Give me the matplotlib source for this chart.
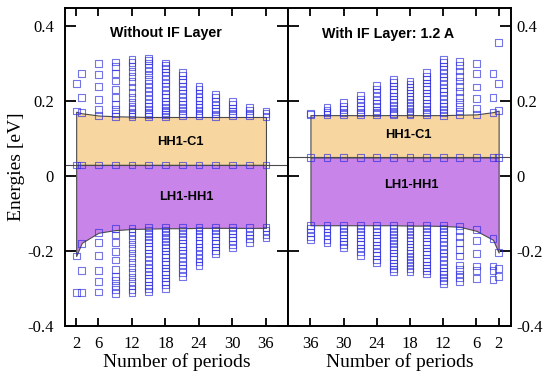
import matplotlib
matplotlib.use("Agg")
import matplotlib.pyplot as plt

# ---------------- data ----------------
periods = [2, 3, 6, 9, 12, 15, 18, 21, 24, 27, 30, 33, 36]
xticks = [2, 6, 12, 18, 24, 30, 36]
yticks = [-0.4, -0.2, 0, 0.2, 0.4]
ytick_labels = ["-0.4", "-0.2", "0", "0.2", "0.4"]

# Without IF layer
hh1_left = 0.030
c1_left = [0.172, 0.168, 0.162, 0.160, 0.159, 0.158, 0.158, 0.158, 0.158, 0.158, 0.158, 0.158, 0.158]
lh1_left = [-0.213, -0.178, -0.151, -0.144, -0.141, -0.140, -0.139, -0.139, -0.138, -0.138, -0.138, -0.138, -0.138]
cond_left = [
    [0.247, 0.174],
    [0.274, 0.210, 0.169],
    [0.300, 0.272, 0.239, 0.205, 0.178, 0.163],
    [0.305, 0.292, 0.274, 0.254, 0.231, 0.209, 0.191, 0.178, 0.168, 0.160],
    [0.311, 0.303, 0.292, 0.280, 0.266, 0.252, 0.238, 0.224, 0.210, 0.198, 0.187, 0.178, 0.170, 0.164, 0.159],
    [0.314, 0.308, 0.300, 0.291, 0.281, 0.270, 0.259, 0.248, 0.237, 0.226, 0.215, 0.205, 0.195, 0.186, 0.178, 0.171, 0.165, 0.160],
    [0.302, 0.295, 0.287, 0.278, 0.269, 0.259, 0.249, 0.239, 0.229, 0.219, 0.209, 0.200, 0.191, 0.183, 0.176, 0.169, 0.164, 0.159],
    [0.276, 0.268, 0.259, 0.250, 0.240, 0.230, 0.220, 0.210, 0.200, 0.191, 0.183, 0.175, 0.168, 0.162],
    [0.240, 0.231, 0.221, 0.211, 0.201, 0.192, 0.183, 0.175, 0.168, 0.162],
    [0.219, 0.209, 0.199, 0.190, 0.181, 0.173, 0.166, 0.160],
    [0.200, 0.191, 0.182, 0.174, 0.167, 0.161],
    [0.183, 0.175, 0.168, 0.162],
    [0.174, 0.167, 0.160],
]
val_left = [
    [-0.213, -0.310],
    [-0.180, -0.252, -0.310],
    [-0.151, -0.178, -0.211, -0.252, -0.282, -0.309],
    [-0.139, -0.157, -0.178, -0.202, -0.224, -0.249, -0.268, -0.279, -0.291, -0.302, -0.313],
    [-0.139, -0.148, -0.158, -0.169, -0.181, -0.193, -0.205, -0.218, -0.231, -0.244, -0.257, -0.269, -0.281, -0.292, -0.302, -0.311],
    [-0.137, -0.144, -0.152, -0.160, -0.169, -0.178, -0.187, -0.196, -0.205, -0.215, -0.225, -0.235, -0.245, -0.255, -0.264, -0.273, -0.282, -0.291, -0.299, -0.307],
    [-0.137, -0.144, -0.151, -0.159, -0.167, -0.175, -0.183, -0.191, -0.200, -0.209, -0.218, -0.227, -0.236, -0.245, -0.254, -0.263, -0.272, -0.281, -0.290, -0.299],
    [-0.137, -0.145, -0.153, -0.161, -0.170, -0.179, -0.188, -0.197, -0.207, -0.217, -0.227, -0.237, -0.247, -0.257, -0.267],
    [-0.137, -0.145, -0.153, -0.162, -0.171, -0.180, -0.189, -0.199, -0.209, -0.219, -0.229, -0.239],
    [-0.137, -0.145, -0.153, -0.162, -0.171, -0.180, -0.189, -0.198, -0.207],
    [-0.137, -0.145, -0.154, -0.163, -0.172, -0.182, -0.192],
    [-0.137, -0.147, -0.157, -0.167, -0.177],
    [-0.136, -0.145, -0.155, -0.165],
]

# With IF layer 1.2 A
hh1_right = 0.050
c1_right = [0.175, 0.171, 0.165, 0.164, 0.163, 0.163, 0.163, 0.163, 0.163, 0.163, 0.163, 0.163, 0.163]
lh1_right = [-0.204, -0.170, -0.146, -0.135, -0.133, -0.132, -0.132, -0.131, -0.131, -0.131, -0.131, -0.131, -0.131]
cond_right = [
    [0.356, 0.247, 0.176],
    [0.274, 0.211, 0.171],
    [0.300, 0.274, 0.238, 0.207, 0.180, 0.165],
    [0.307, 0.296, 0.281, 0.267, 0.254, 0.240, 0.225, 0.210, 0.196, 0.185, 0.174, 0.165],
    [0.311, 0.303, 0.294, 0.285, 0.275, 0.265, 0.255, 0.245, 0.235, 0.225, 0.215, 0.205, 0.195, 0.186, 0.177, 0.169, 0.163],
    [0.276, 0.267, 0.258, 0.249, 0.240, 0.231, 0.222, 0.213, 0.204, 0.195, 0.186, 0.178, 0.170, 0.164],
    [0.254, 0.246, 0.238, 0.230, 0.222, 0.213, 0.205, 0.197, 0.189, 0.181, 0.174, 0.168, 0.164],
    [0.258, 0.250, 0.241, 0.232, 0.223, 0.214, 0.205, 0.196, 0.188, 0.180, 0.173, 0.167, 0.164],
    [0.243, 0.233, 0.223, 0.213, 0.203, 0.194, 0.185, 0.176, 0.169, 0.164],
    [0.216, 0.206, 0.196, 0.187, 0.178, 0.170, 0.164],
    [0.196, 0.186, 0.177, 0.170, 0.164],
    [0.183, 0.176, 0.170, 0.165],
    [0.168, 0.164],
]
val_right = [
    [-0.204, -0.246, -0.268],
    [-0.166, -0.240, -0.251, -0.276],
    [-0.142, -0.171, -0.206, -0.240, -0.251, -0.273],
    [-0.133, -0.144, -0.160, -0.178, -0.195, -0.213, -0.237, -0.249, -0.261, -0.270, -0.282],
    [-0.131, -0.139, -0.147, -0.156, -0.165, -0.175, -0.185, -0.195, -0.205, -0.215, -0.225, -0.235, -0.245, -0.254, -0.263, -0.271, -0.279, -0.286],
    [-0.131, -0.139, -0.148, -0.156, -0.165, -0.174, -0.183, -0.192, -0.201, -0.210, -0.219, -0.228, -0.237, -0.245, -0.253, -0.261],
    [-0.131, -0.139, -0.147, -0.156, -0.164, -0.172, -0.181, -0.189, -0.198, -0.206, -0.215, -0.223, -0.231, -0.239, -0.247, -0.254],
    [-0.131, -0.139, -0.147, -0.155, -0.163, -0.171, -0.179, -0.187, -0.196, -0.205, -0.214, -0.223, -0.232, -0.240, -0.248, -0.255],
    [-0.131, -0.139, -0.148, -0.157, -0.166, -0.175, -0.184, -0.193, -0.203, -0.212, -0.222, -0.231],
    [-0.131, -0.139, -0.147, -0.156, -0.165, -0.174, -0.183, -0.192, -0.201, -0.211],
    [-0.131, -0.139, -0.147, -0.156, -0.165, -0.174, -0.182, -0.190],
    [-0.131, -0.140, -0.149, -0.158, -0.168, -0.178],
    [-0.131, -0.140, -0.150, -0.160, -0.170],
]

# ---------------- style ----------------
plt.rcParams["axes.unicode_minus"] = False
serif = "Liberation Serif"
sans = "Liberation Sans"
orange = "#F7D6A0"
purple = "#C984EA"
blue = "#2C2CE0"
edge = "#4a4a4a"

fig = plt.figure(figsize=(5.5, 3.84), dpi=100)
W, H = 550.0, 384.0
top_px, bot_px = 8.0, 326.0
ax1 = fig.add_axes([65 / W, 1 - bot_px / H, 223.3 / W, (bot_px - top_px) / H])
ax2 = fig.add_axes([288.3 / W, 1 - bot_px / H, 222.5 / W, (bot_px - top_px) / H])


def draw(ax, c1, lh1, hh1, cond, val):
    ax.fill_between(periods, [hh1] * len(periods), c1, facecolor=orange,
                    edgecolor=edge, lw=0.8, zorder=1)
    ax.fill_between(periods, lh1, [hh1] * len(periods), facecolor=purple,
                    edgecolor=edge, lw=0.8, zorder=1)
    ax.axhline(hh1, color=edge, lw=0.8, zorder=1.5)
    xs, ys = [], []
    for p, col in zip(periods, cond):
        xs += [p] * len(col)
        ys += col
    for p, col in zip(periods, val):
        xs += [p] * len(col)
        ys += col
    xs += periods
    ys += [hh1] * len(periods)
    ax.scatter(xs, ys, marker="s", s=24, facecolors="none",
               edgecolors=blue, linewidths=0.8, alpha=0.65, zorder=3)
    ax.set_ylim(-0.4, 0.449)
    ax.set_xticks(xticks)
    ax.set_xticklabels([str(t) for t in xticks], fontfamily=serif, fontsize=12)
    ax.set_yticks(yticks)
    for s in ax.spines.values():
        s.set_linewidth(1.4)
    ax.tick_params(axis="both", direction="in", width=1.3)
    ax.tick_params(axis="x", length=6, top=True, bottom=True, pad=7)
    ax.tick_params(axis="y", length=8, left=True, right=True)
    ax.set_xlabel("Number of periods", fontfamily=serif, fontsize=14, labelpad=1)


draw(ax1, c1_left, lh1_left, hh1_left, cond_left, val_left)
draw(ax2, c1_right, lh1_right, hh1_right, cond_right, val_right)

ax1.set_xlim(0, 40)
ax2.set_xlim(40, -0.2)

ax1.set_yticklabels(ytick_labels, fontfamily=serif, fontsize=12)
ax1.tick_params(axis="y", labelleft=True, labelright=False, pad=8)
ax1.set_ylabel("Energies [eV]", fontfamily=serif, fontsize=14, labelpad=2)

ax2.set_yticklabels(ytick_labels, fontfamily=serif, fontsize=12)
ax2.tick_params(axis="y", labelleft=False, labelright=True, pad=4)

ax1.text(18.0, 0.383, "Without IF Layer", ha="center", va="center",
         fontfamily=sans, fontweight="bold", fontsize=10.3)
ax2.text(22.0, 0.379, "With IF Layer: 1.2 A", ha="center", va="center",
         fontfamily=sans, fontweight="bold", fontsize=10.3)
ax1.text(20.6, 0.092, "HH1-C1", ha="center", va="center",
         fontfamily=sans, fontweight="bold", fontsize=9.3, zorder=4)
ax1.text(21.8, -0.055, "LH1-HH1", ha="center", va="center",
         fontfamily=sans, fontweight="bold", fontsize=9.3, zorder=4)
ax2.text(18.3, 0.109, "HH1-C1", ha="center", va="center",
         fontfamily=sans, fontweight="bold", fontsize=9.3, zorder=4)
ax2.text(17.8, -0.024, "LH1-HH1", ha="center", va="center",
         fontfamily=sans, fontweight="bold", fontsize=9.3, zorder=4)

fig.savefig("out.png", dpi=100)
